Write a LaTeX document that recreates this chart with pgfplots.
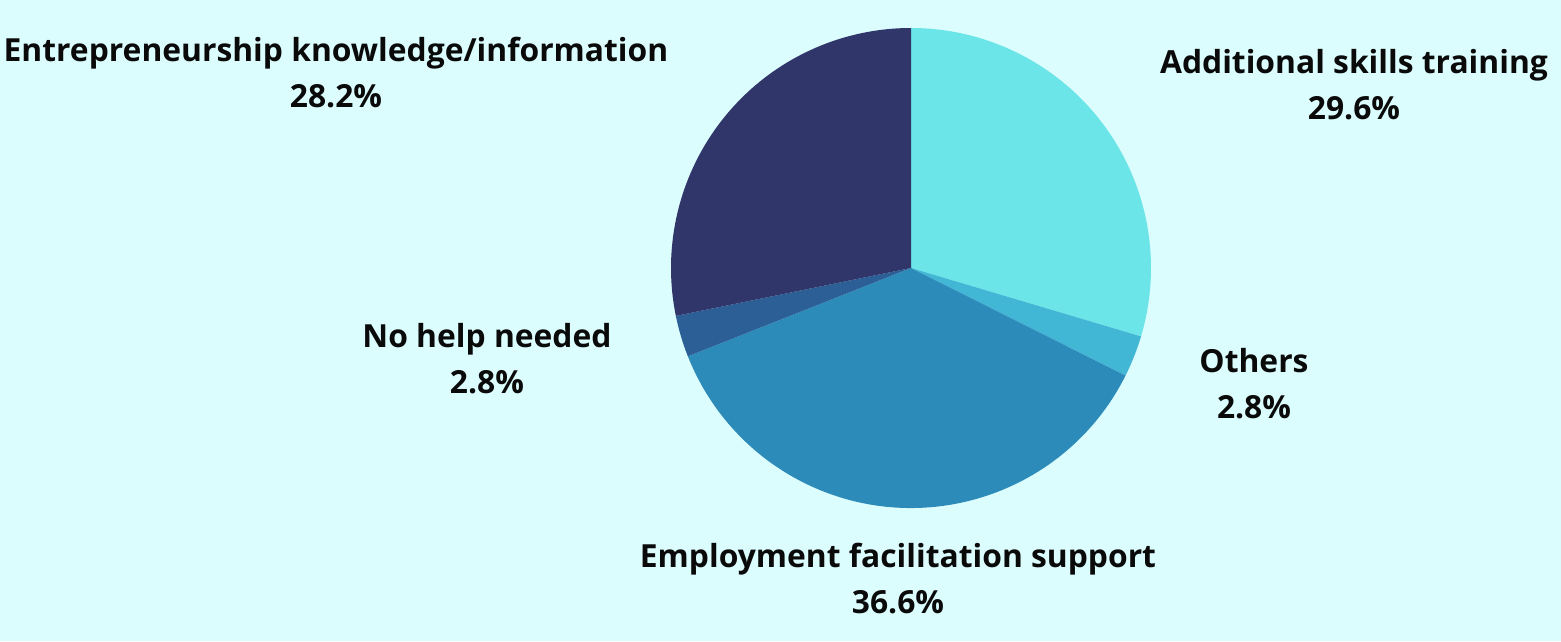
\documentclass[border=0pt]{standalone}
\usepackage{pgfplots}
\usepackage{pgfplotstable}
\pgfplotsset{compat=1.18}
\usepackage{fontspec}
\setmainfont{Open Sans}[UprightFont=* Bold]
\definecolor{bg}{HTML}{DCFDFE}
\definecolor{slice0}{HTML}{6BE5E8}
\definecolor{slice1}{HTML}{42B7D5}
\definecolor{slice2}{HTML}{2D8BBA}
\definecolor{slice3}{HTML}{2C5F96}
\definecolor{slice4}{HTML}{30356A}
\definecolor{txt}{HTML}{0A0A0A}
\pgfplotstableread[col sep=comma]{
label,value
Additional skills training,29.6
Others,2.8
Employment facilitation support,36.6
No help needed,2.8
Entrepreneurship knowledge/information,28.2
}\piedata
\begin{document}
\begin{tikzpicture}
\fill[bg] (0,0) rectangle (1561pt,641pt);
\begin{axis}[
  at={(0,0)}, anchor=south west,
  scale only axis, width=1561pt, height=641pt,
  xmin=0, xmax=1561, ymin=0, ymax=641,
  hide axis, clip=false,
]
\xdef\angstart{90}
\pgfplotsforeachungrouped \i in {0,...,4}{
  \pgfplotstablegetelem{\i}{value}\of\piedata
  \pgfmathsetmacro\angend{\angstart-3.6*\pgfplotsretval}
  \edef\temp{\noexpand\fill[slice\i] (axis cs:911,373) -- ++(\angstart:240pt) arc[start angle=\angstart, end angle=\angend, radius=240pt] -- cycle;}
  \temp
  \xdef\angstart{\angend}
}
\tikzset{lbl/.style={text=txt, font=\fontsize{31.8}{46}\selectfont, align=center, inner sep=0pt}}
\node[lbl] at (axis cs:1354,556) {Additional skills training\\29.6\%};
\node[lbl] at (axis cs:1254,257) {Others\\2.8\%};
\node[lbl] at (axis cs:898,62) {Employment facilitation support\\36.6\%};
\node[lbl] at (axis cs:487,282) {No help needed\\2.8\%};
\node[lbl] at (axis cs:336,568) {Entrepreneurship knowledge/information\\28.2\%};
\end{axis}
\end{tikzpicture}
\end{document}
